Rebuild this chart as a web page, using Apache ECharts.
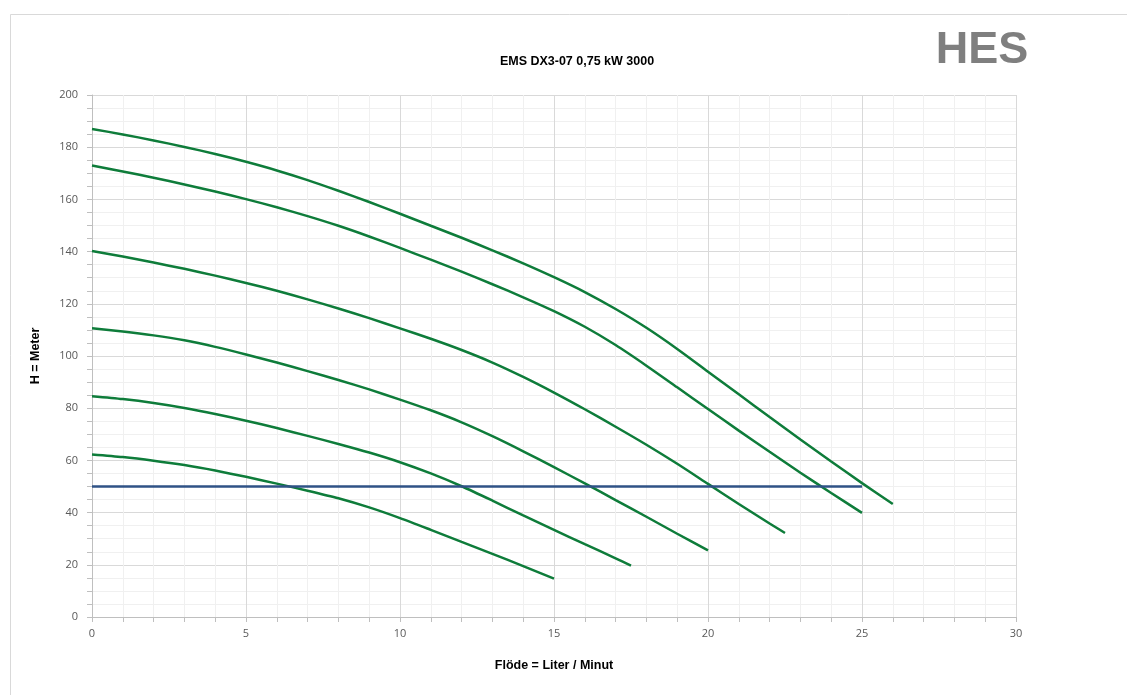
<!DOCTYPE html>
<html>
<head>
<meta charset="utf-8">
<script src="https://cdn.jsdelivr.net/npm/echarts@6/dist/echarts.min.js"></script>
<style>
html,body{margin:0;padding:0;background:#fff;}
#chart{width:1127px;height:695px;}
</style>
</head>
<body>
<div id="chart"></div>
<script>
// Flow values (Liter / Minut) and head (Meter) for each curve
const flow1 = [0,1,2,3,4,5,6,7,8,9,10,11,12,13,14,15,16,17,18,19,20,21,22,23,24,25,26];
const head1 = [187,184.9,182.6,180.1,177.4,174.4,171.1,167.4,163.3,159.0,154.5,149.9,145.3,140.5,135.5,130.2,124.5,118.0,110.8,102.7,94.0,85.3,76.6,68.0,59.6,51.3,43.3];

const flow2 = [0,1,2,3,4,5,6,7,8,9,10,11,12,13,14,15,16,17,18,19,20,21,22,23,24,25];
const head2 = [173,170.7,168.3,165.7,163.0,160.1,157.0,153.6,149.9,145.8,141.4,136.9,132.3,127.5,122.5,117.2,111.2,104.2,96.3,88.0,79.7,71.4,63.3,55.3,47.5,39.9];

const flow3 = [0,1,2,3,4,5,6,7,8,9,10,11,12,13,14,15,16,17,18,19,20,21,22,22.5];
const head3 = [140.2,138.1,135.8,133.4,130.8,128.0,125.0,121.7,118.2,114.5,110.6,106.6,102.3,97.5,92.0,86.0,79.6,72.9,66.0,58.7,51.0,43.3,35.8,32.2];

const flow4 = [0,1,2,3,4,5,6,7,8,9,10,11,12,13,14,15,16,17,18,19,20];
const head4 = [110.6,109.4,107.9,106.0,103.5,100.6,97.5,94.2,90.8,87.2,83.3,79.2,74.6,69.3,63.5,57.4,51.2,44.8,38.4,31.9,25.5];

const flow5 = [0,1,2,3,4,5,6,7,8,9,10,11,12,13,14,15,16,17,17.5];
const head5 = [84.6,83.5,82.0,80.1,77.8,75.2,72.4,69.4,66.3,63.0,59.3,55.0,50.1,44.6,38.9,33.4,27.9,22.5,19.7];

const flow6 = [0,1,2,3,4,5,6,7,8,9,10,11,12,13,14,15];
const head6 = [62.3,61.3,59.9,58.2,56.1,53.7,51.1,48.4,45.5,42.0,37.9,33.4,28.8,24.2,19.5,14.7];

const dutyFlow = [0,25];
const dutyHead = [50,50];

const chartTitle = 'EMS DX3-07 0,75 kW 3000';
const brand = 'HES';
const xName = 'Flöde = Liter / Minut';
const yName = 'H = Meter';

function pairs(xs, ys){ return xs.map((x,i)=>[x, ys[i]]); }

const curves = [[flow1,head1],[flow2,head2],[flow3,head3],[flow4,head4],[flow5,head5],[flow6,head6]];

const green = '#0E7C3A';
const series = curves.map(c => ({
  type:'line', data:pairs(c[0],c[1]), smooth:0.25, showSymbol:false,
  lineStyle:{color:green, width:2.5}, itemStyle:{color:green}, z:3, animation:false
}));
series.push({
  type:'line', data:pairs(dutyFlow,dutyHead), showSymbol:false,
  lineStyle:{color:'#2F5286', width:2.5}, z:4, animation:false
});

const chart = echarts.init(document.getElementById('chart'), null, {renderer:'canvas'});
chart.setOption({
  animation:false,
  backgroundColor:'#ffffff',
  title:[
    {text:chartTitle, left:572, top:50, textAlign:'center',
     textStyle:{fontFamily:'Liberation Sans, Arial, sans-serif', fontWeight:'bold', fontSize:12.5, color:'#000'}},
    {text:brand, left:977, top:23, textAlign:'center',
     textStyle:{fontFamily:'Liberation Sans, Arial, sans-serif', fontWeight:'bold', fontSize:45, color:'#7F7F7F'}}
  ],
  graphic:[
    {type:'rect', shape:{x:10.5, y:14.5, width:1300, height:900}, style:{fill:null, stroke:'#D9D9D9', lineWidth:1}, silent:true, z:-1}
  ],
  grid:{left:92, right:111, top:95, bottom:78, containLabel:false},
  xAxis:{
    type:'value', min:0, max:30, interval:5,
    name:xName, nameLocation:'middle', nameGap:42,
    nameTextStyle:{fontFamily:'Liberation Sans, Arial, sans-serif', fontWeight:'bold', fontSize:12.5, color:'#000'},
    axisLine:{show:true, lineStyle:{color:'#BFBFBF', width:1}},
    axisTick:{show:true, length:5, lineStyle:{color:'#BFBFBF'}},
    minorTick:{show:true, splitNumber:5, length:5, lineStyle:{color:'#BFBFBF'}},
    axisLabel:{color:'#595959', fontSize:11, margin:11, fontFamily:'Open Sans, Liberation Sans, sans-serif'},
    splitLine:{show:true, lineStyle:{color:'#D9D9D9', width:1}},
    minorSplitLine:{show:true, lineStyle:{color:'#F0F0F0', width:1}}
  },
  yAxis:{
    type:'value', min:0, max:200, interval:20,
    name:yName, nameLocation:'middle', nameGap:50, nameRotate:90,
    nameTextStyle:{fontFamily:'Liberation Sans, Arial, sans-serif', fontWeight:'bold', fontSize:12.5, color:'#000'},
    axisLine:{show:true, lineStyle:{color:'#BFBFBF', width:1}},
    axisTick:{show:true, length:5, lineStyle:{color:'#BFBFBF'}},
    minorTick:{show:true, splitNumber:4, length:5, lineStyle:{color:'#BFBFBF'}},
    axisLabel:{color:'#595959', fontSize:11, margin:14, fontFamily:'Open Sans, Liberation Sans, sans-serif'},
    splitLine:{show:true, lineStyle:{color:'#D9D9D9', width:1}},
    minorSplitLine:{show:true, lineStyle:{color:'#F0F0F0', width:1}}
  },
  series:series
});
</script>
</body>
</html>
